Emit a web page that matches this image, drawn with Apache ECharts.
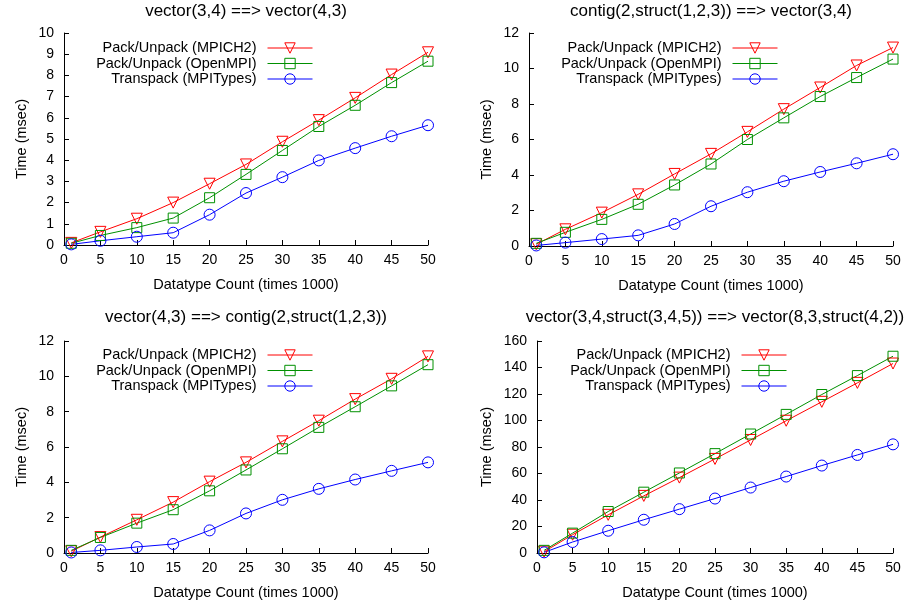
<!DOCTYPE html>
<html><head><meta charset="utf-8">
<script src="https://cdn.jsdelivr.net/npm/echarts@6/dist/echarts.min.js"></script>
<style>html,body{margin:0;padding:0;background:#fff}#c{width:904px;height:603px}</style>
</head><body><div id="c"></div>
<script>
const xCounts = [1, 5, 10, 15, 20, 25, 30, 35, 40, 45, 50];
const seriesNames = ['Pack/Unpack (MPICH2)', 'Pack/Unpack (OpenMPI)', 'Transpack (MPITypes)'];
const titles = [
  'vector(3,4) ==> vector(4,3)',
  'contig(2,struct(1,2,3)) ==> vector(3,4)',
  'vector(4,3) ==> contig(2,struct(1,2,3))',
  'vector(3,4,struct(3,4,5)) ==> vector(8,3,struct(4,2))'
];
// Plot 1
const p1Mpich = [0.1, 0.62, 1.24, 2.0, 2.89, 3.8, 4.87, 5.89, 6.94, 8.04, 9.09];
const p1Open  = [0.08, 0.45, 0.82, 1.27, 2.23, 3.33, 4.46, 5.59, 6.59, 7.66, 8.67];
const p1Trans = [0.03, 0.2, 0.39, 0.58, 1.43, 2.45, 3.2, 3.99, 4.57, 5.13, 5.65];
// Plot 2
const p2Mpich = [0.1, 0.94, 1.88, 2.91, 4.06, 5.19, 6.43, 7.71, 8.93, 10.17, 11.18];
const p2Open  = [0.15, 0.77, 1.5, 2.35, 3.44, 4.62, 6.0, 7.22, 8.42, 9.49, 10.53];
const p2Trans = [0.03, 0.19, 0.39, 0.6, 1.24, 2.24, 3.03, 3.65, 4.17, 4.66, 5.17];
// Plot 3
const p3Mpich = [0.1, 0.9, 1.88, 2.88, 4.04, 5.13, 6.32, 7.49, 8.71, 9.86, 11.13];
const p3Open  = [0.15, 0.88, 1.69, 2.45, 3.52, 4.7, 5.9, 7.11, 8.28, 9.46, 10.66];
const p3Trans = [0.03, 0.15, 0.34, 0.51, 1.28, 2.24, 3.01, 3.63, 4.16, 4.65, 5.13];
// Plot 4
const p4Mpich = [1.0, 13.8, 28.8, 43.1, 56.9, 71.0, 85.3, 99.8, 114.1, 128.4, 143.0];
const p4Open  = [2.0, 15.0, 31.3, 45.9, 60.4, 75.0, 89.8, 104.6, 119.6, 133.9, 148.5];
const p4Trans = [0.5, 8.3, 16.8, 25.1, 33.1, 41.1, 49.4, 57.7, 66.0, 74.0, 82.0];
const yMax = [10, 12, 12, 160];
const yInterval = [1, 2, 2, 20];

const plotData = [
  [p1Mpich, p1Open, p1Trans],
  [p2Mpich, p2Open, p2Trans],
  [p3Mpich, p3Open, p3Trans],
  [p4Mpich, p4Open, p4Trans]
];

const FONT = 'Liberation Sans';
const colors = ['#ff0000', '#009000', '#0000ff'];
const symbols = ['triangle', 'rect', 'circle'];
const rotates = [180, 0, 0];

const grids = [
  {left: 64, top: 33, width: 364, height: 212},
  {left: 529, top: 33, width: 364, height: 213},
  {left: 64, top: 341, width: 364, height: 212},
  {left: 537, top: 341, width: 356, height: 212}
];
const legendPos = [
  {right: 591, top: 40.5},
  {right: 126, top: 40.5},
  {right: 591, top: 347.5},
  {right: 117, top: 347.5}
];
const yNameGap = [35, 35, 35, 43];

const option = {
  backgroundColor: '#fff',
  animation: false,
  textStyle: {fontFamily: FONT},
  title: grids.map((g, i) => ({
    text: titles[i],
    left: g.left + g.width / 2,
    textAlign: 'center',
    top: i < 2 ? 3 : 309,
    padding: 0,
    textStyle: {fontFamily: FONT, fontSize: 17, fontWeight: 'normal', color: '#000'}
  })),
  grid: grids,
  legend: legendPos.map((p, i) => ({
    orient: 'vertical',
    align: 'right',
    right: p.right,
    top: p.top,
    padding: 0,
    itemWidth: 45,
    itemHeight: 13,
    itemGap: 0.5,
    selectedMode: false,
    data: seriesNames,
    lineStyle: {width: 1},
    itemStyle: {borderWidth: 1},
    textStyle: {fontFamily: FONT, fontSize: 14.5, lineHeight: 13, color: '#000', padding: [0, 6, 0, 0]}
  })),
  xAxis: grids.map((g, i) => ({
    type: 'value', gridIndex: i, min: 0, max: 50, interval: 5,
    name: 'Datatype Count (times 1000)', nameLocation: 'middle', nameGap: 32,
    nameTextStyle: {fontFamily: FONT, fontSize: 14.5, color: '#000'},
    axisLine: {lineStyle: {color: '#000', width: 1}},
    axisTick: {inside: true, length: 5, lineStyle: {color: '#000'}},
    axisLabel: {fontFamily: FONT, fontSize: 14, color: '#000', margin: 8},
    splitLine: {show: false}
  })),
  yAxis: grids.map((g, i) => ({
    type: 'value', gridIndex: i, min: 0, max: yMax[i], interval: yInterval[i],
    name: 'Time (msec)', nameLocation: 'middle', nameGap: yNameGap[i],
    nameTextStyle: {fontFamily: FONT, fontSize: 14.5, color: '#000'},
    axisLine: {show: true, lineStyle: {color: '#000', width: 1}},
    axisTick: {show: true, inside: true, length: 5, lineStyle: {color: '#000'}},
    axisLabel: {fontFamily: FONT, fontSize: 14, color: '#000', margin: 10},
    splitLine: {show: false}
  })),
  series: []
};

plotData.forEach((sets, gi) => {
  sets.forEach((vals, si) => {
    option.series.push({
      name: seriesNames[si],
      type: 'line',
      xAxisIndex: gi, yAxisIndex: gi,
      data: xCounts.map((x, k) => [x, vals[k]]),
      symbol: symbols[si],
      symbolRotate: rotates[si],
      symbolSize: symbols[si] === 'rect' ? 10 : 11,
      showAllSymbol: true,
      color: colors[si],
      lineStyle: {color: colors[si], width: 1},
      itemStyle: {color: 'rgba(255,255,255,0)', borderColor: colors[si], borderWidth: 1},
      emphasis: {disabled: true}
    });
  });
});

const chart = echarts.init(document.getElementById('c'), null, {renderer: 'canvas'});
chart.setOption(option);
</script></body></html>
